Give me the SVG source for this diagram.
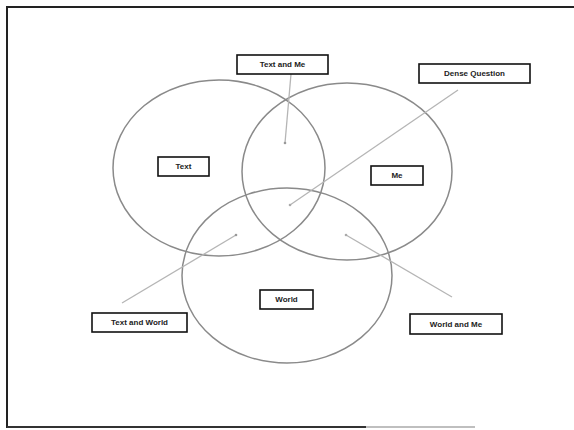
<svg xmlns="http://www.w3.org/2000/svg" width="574" height="430" viewBox="0 0 574 430">
<style>
.circle{fill:none;stroke:#8a8a8a;stroke-width:1.5}
.box{fill:#fff;stroke:#111;stroke-width:1.6}
.lbl{font-family:"Liberation Sans",Arial,sans-serif;font-size:8px;font-weight:bold;fill:#222;text-anchor:middle;dominant-baseline:central}
.conn{stroke:#b5b5b5;stroke-width:1.3;fill:none}
</style>
<rect width="574" height="430" fill="#fff"/>
<g id="frame">
<line x1="6" y1="7" x2="574" y2="7" stroke="#222" stroke-width="2"/>
<line x1="7" y1="7" x2="7" y2="428" stroke="#222" stroke-width="2"/>
<line x1="7" y1="427" x2="366" y2="427" stroke="#333" stroke-width="1.8"/>
<line x1="366" y1="427" x2="475" y2="427" stroke="#aaa" stroke-width="1.5"/>
</g>
<g id="circles">
<ellipse id="circle-text" class="circle" cx="219" cy="168" rx="106" ry="88"/>
<ellipse id="circle-me" class="circle" cx="347" cy="171.5" rx="105" ry="88.5"/>
<ellipse id="circle-world" class="circle" cx="287" cy="275.5" rx="105" ry="87.5"/>
</g>
<g id="connectors">
<line class="conn" x1="291" y1="74" x2="285" y2="143" stroke="#999"/>
<circle cx="285" cy="143" r="1.3" fill="#999"/>
<line class="conn" x1="458" y1="90" x2="290" y2="205"/>
<circle cx="290" cy="205" r="1.3" fill="#aaa"/>
<line class="conn" x1="122" y1="303" x2="236" y2="235"/>
<circle cx="236" cy="235" r="1.3" fill="#999"/>
<line class="conn" x1="346" y1="235" x2="452" y2="297"/>
<circle cx="346" cy="235" r="1.3" fill="#aaa"/>
</g>
<g id="node-text-and-me">
<rect class="box" x="237" y="55" width="91" height="19"/>
<text class="lbl" x="282.5" y="64.5">Text and Me</text>
</g>
<g id="node-dense-question">
<rect class="box" x="419" y="64" width="111" height="19"/>
<text class="lbl" x="474.5" y="73.5">Dense Question</text>
</g>
<g id="node-text">
<rect class="box" x="158" y="157" width="51" height="19"/>
<text class="lbl" x="183.5" y="166.5">Text</text>
</g>
<g id="node-me">
<rect class="box" x="371" y="166" width="52" height="19"/>
<text class="lbl" x="397" y="175.5">Me</text>
</g>
<g id="node-world">
<rect class="box" x="260" y="290" width="53" height="19"/>
<text class="lbl" x="286.5" y="299.5">World</text>
</g>
<g id="node-text-and-world">
<rect class="box" x="92" y="313" width="95" height="19"/>
<text class="lbl" x="139.5" y="322.5">Text and World</text>
</g>
<g id="node-world-and-me">
<rect class="box" x="410" y="314" width="92" height="20"/>
<text class="lbl" x="456" y="324">World and Me</text>
</g>
</svg>
